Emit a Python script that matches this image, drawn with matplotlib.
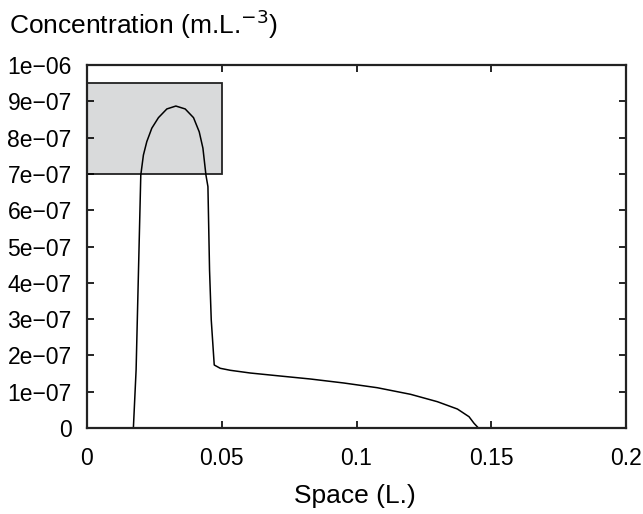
import matplotlib
matplotlib.use("Agg")
import matplotlib.pyplot as plt
from matplotlib.patches import Rectangle

plt.rcParams['font.family'] = ['Liberation Sans', 'DejaVu Sans']

# curve data (space, concentration)
space = [0.01721, 0.01822, 0.01996, 0.02093, 0.02219, 0.02405, 0.02651, 0.02963,
         0.03297, 0.03643, 0.03952, 0.04164, 0.04301, 0.04413, 0.04487, 0.04547,
         0.04610, 0.04721, 0.04944, 0.05316, 0.06059, 0.07052, 0.08290, 0.09528,
         0.10770, 0.12007, 0.13000, 0.13743, 0.14175, 0.14361, 0.14524]
conc = [0.0, 1.60e-7, 6.97e-7, 7.52e-7, 7.89e-7, 8.26e-7, 8.55e-7, 8.79e-7,
        8.87e-7, 8.79e-7, 8.55e-7, 8.16e-7, 7.71e-7, 6.97e-7, 6.65e-7, 4.35e-7,
        2.98e-7, 1.736e-7, 1.645e-7, 1.590e-7, 1.515e-7, 1.441e-7, 1.350e-7, 1.240e-7,
        1.110e-7, 0.928e-7, 0.725e-7, 0.523e-7, 0.311e-7, 0.129e-7, 0.0]

# highlighted window
box_x = [0.0, 0.05]
box_y = [7.0e-7, 9.5e-7]

xticks = [0, 0.05, 0.1, 0.15, 0.2]
xticklabels = ['0', '0.05', '0.1', '0.15', '0.2']
yticks = [i * 1e-7 for i in range(11)]
yticklabels = ['0', '1e\u221207', '2e\u221207', '3e\u221207', '4e\u221207', '5e\u221207',
               '6e\u221207', '7e\u221207', '8e\u221207', '9e\u221207', '1e\u221206']

fig = plt.figure(figsize=(6.43, 5.14), dpi=100)
ax = fig.add_axes([0.1353, 0.1673, 0.8383, 0.7062])

ax.add_patch(Rectangle((box_x[0], box_y[0]), box_x[1] - box_x[0], box_y[1] - box_y[0],
                       facecolor='#d9dadb', edgecolor='#222222', linewidth=1.3, zorder=1))
ax.plot(space, conc, color='black', linewidth=1.1, zorder=2)

ax.set_xlim(0, 0.2)
ax.set_ylim(0, 1e-6)
ax.set_xticks(xticks)
ax.set_xticklabels(xticklabels)
ax.set_yticks(yticks)
ax.set_yticklabels(yticklabels)
ax.tick_params(direction='in', length=5, width=1.2, top=True, right=True, labelsize=16.5)
ax.tick_params(axis='x', pad=14)
ax.tick_params(axis='y', pad=11)
for s in ax.spines.values():
    s.set_linewidth(1.6)
    s.set_color('#222222')

fig.text(0.552, 1 - 503 / 514, 'Space (L.)', fontsize=19, ha='center', va='baseline')
fig.text(0.014, 1 - 34 / 514, 'Concentration (m.L.$^{\u22123}$)', fontsize=19,
         ha='left', va='baseline')

fig.savefig('out.png', dpi=100)
